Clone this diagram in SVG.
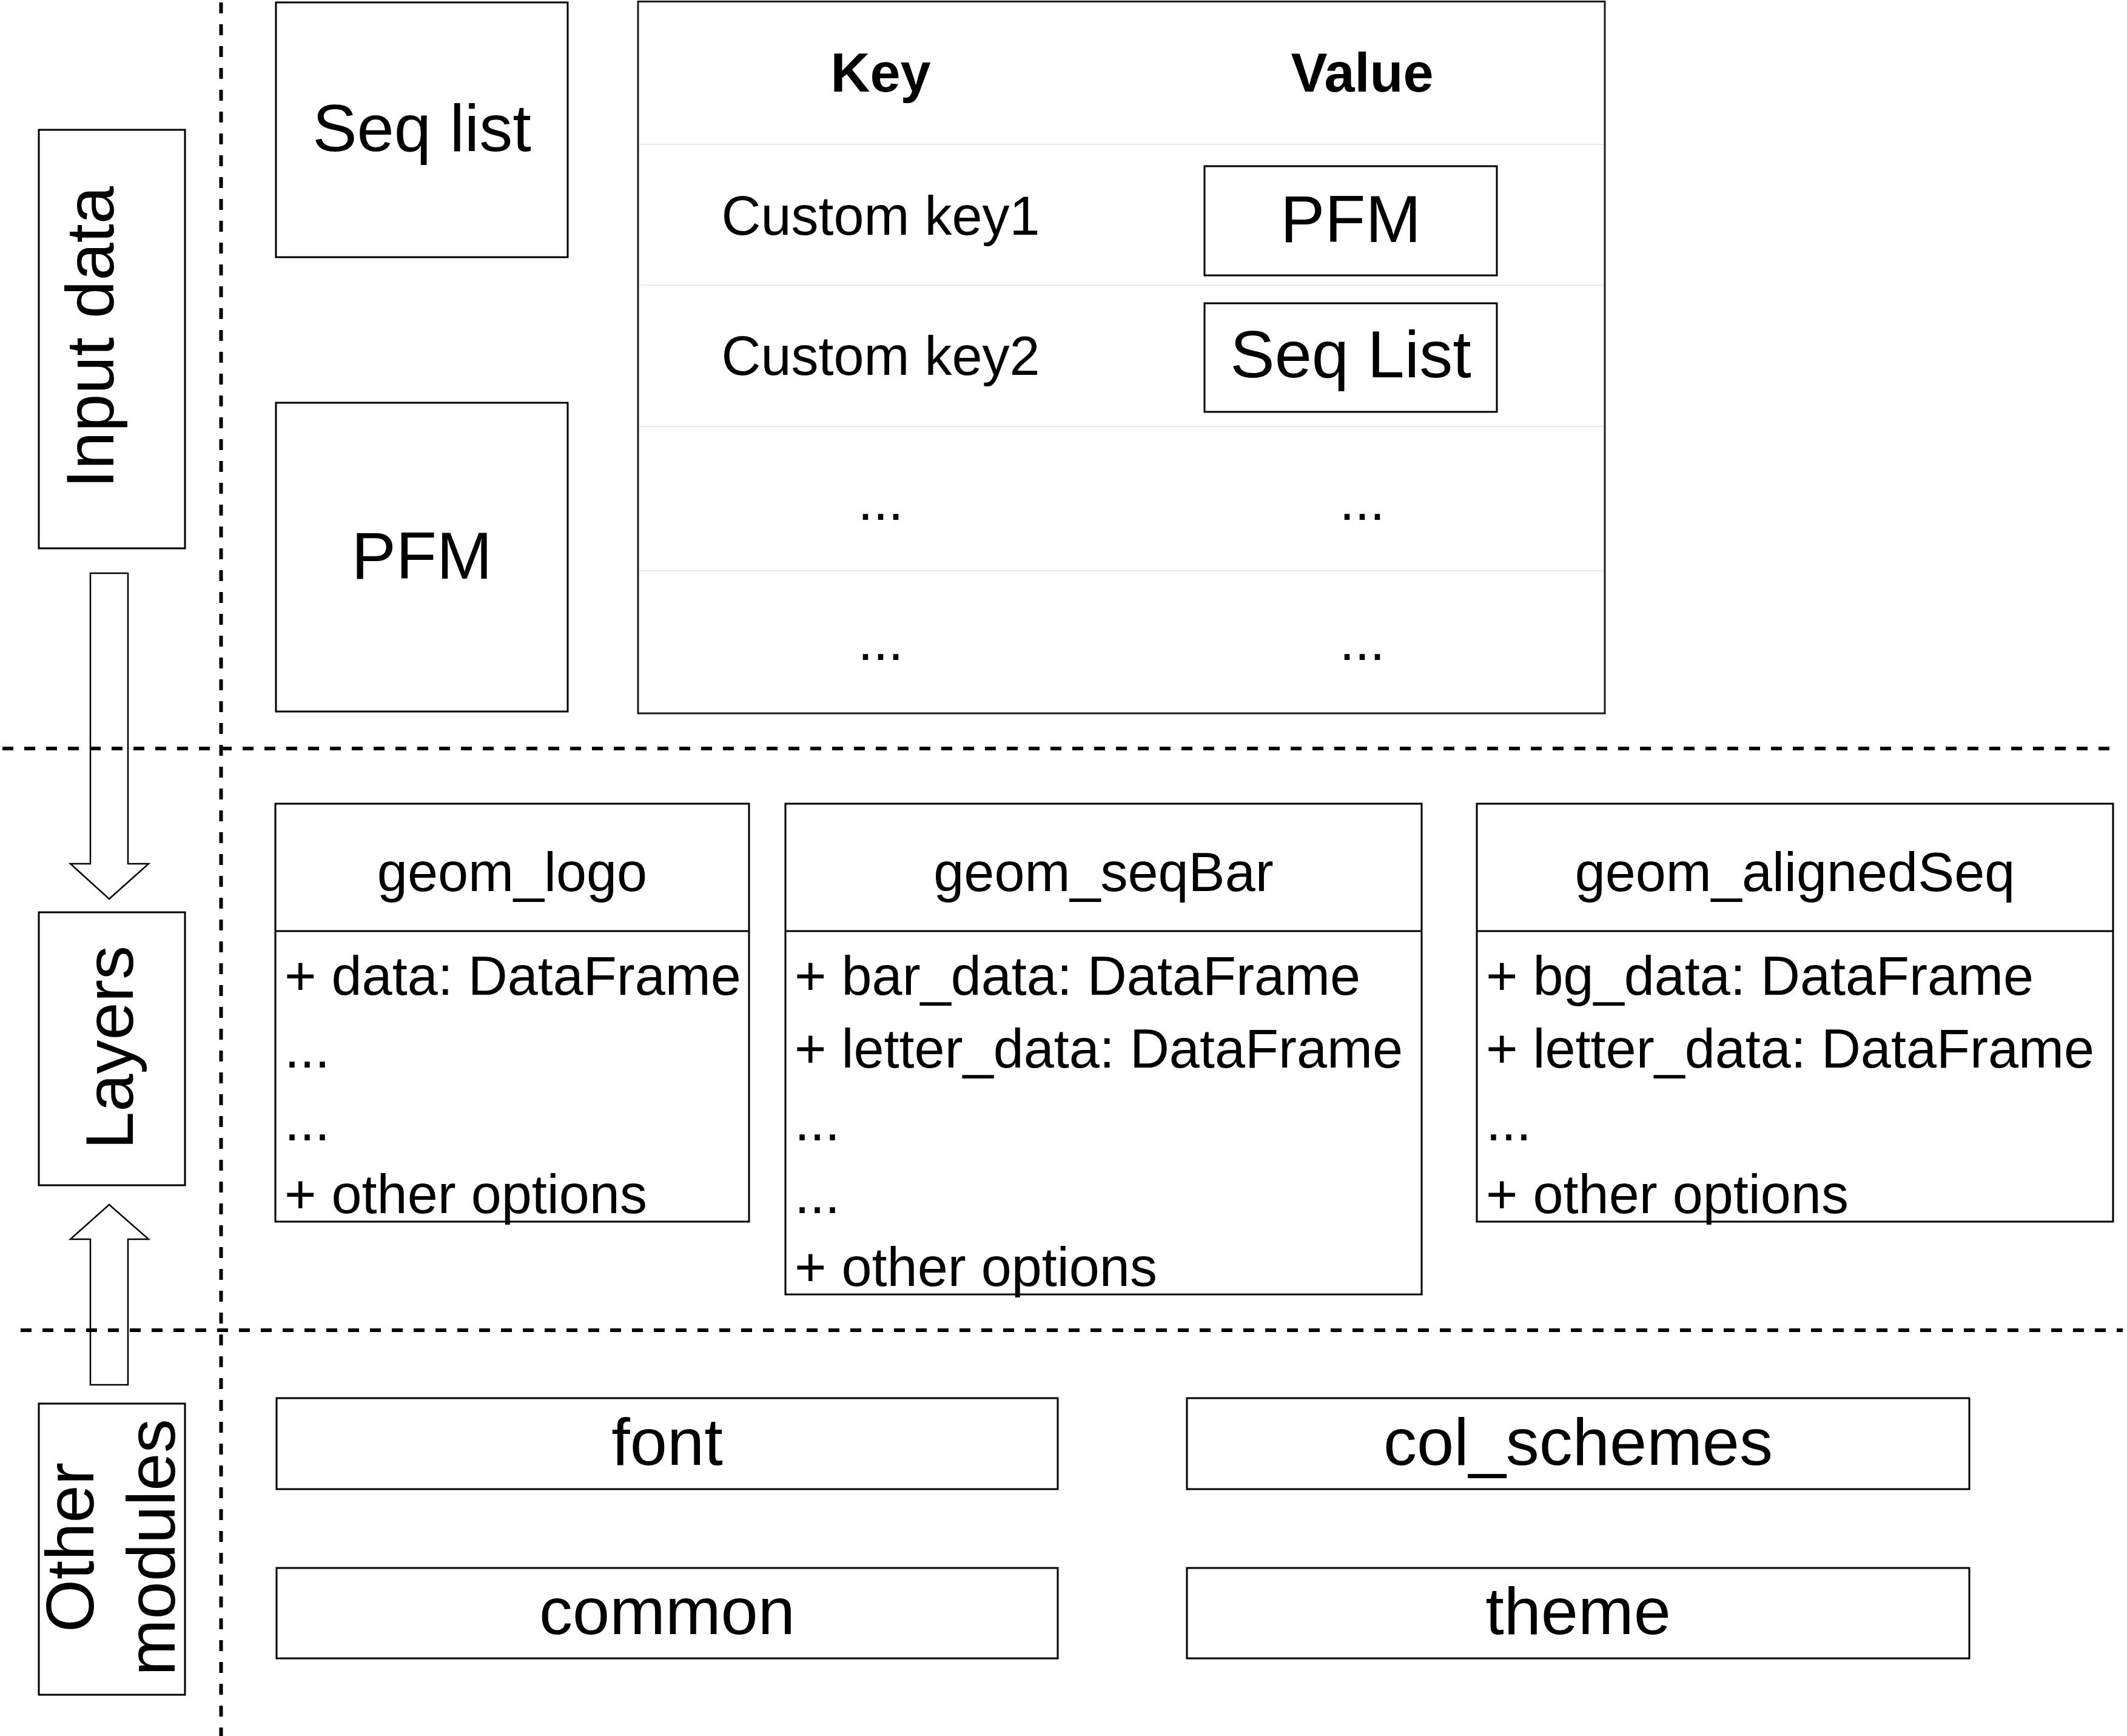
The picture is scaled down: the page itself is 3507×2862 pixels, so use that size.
<svg xmlns="http://www.w3.org/2000/svg" width="3507" height="2862" viewBox="0 0 3507 2862">
<style>
  .box { fill: #ffffff; stroke: #000000; stroke-width: 3; }
  .sep { stroke: #000000; stroke-width: 6; stroke-dasharray: 18 18; fill: none; }
  .row { stroke: #e8e8e8; stroke-width: 2; fill: none; }
  .arrow { fill: #ffffff; stroke: #000000; stroke-width: 2.5; stroke-linejoin: miter; }
  text { font-family: "Liberation Sans", Arial, Helvetica, sans-serif; fill: #000000; }
  .side { font-size: 112px; text-anchor: middle; }
  .big { font-size: 110px; text-anchor: middle; }
  .mid { font-size: 90px; text-anchor: middle; }
  .hdr { font-size: 90px; font-weight: bold; text-anchor: middle; }
  .attr { font-size: 90px; }
</style>
<rect x="0" y="0" width="3507" height="2862" fill="#ffffff"/>

<g id="input-data-label">
  <rect class="box" x="64" y="214" width="241" height="690"/>
  <text class="side" transform="translate(0,556) rotate(-90)" x="0" y="187">Input data</text>
</g>

<g id="layers-label">
  <rect class="box" x="64" y="1504" width="241" height="450"/>
  <text class="side" transform="translate(0,1727) rotate(-90)" x="0" y="219">Layers</text>
</g>

<g id="other-modules-label">
  <rect class="box" x="64" y="2314" width="241" height="480"/>
  <text class="side" transform="translate(0,2551) rotate(-90)"><tspan x="0" y="154">Other</tspan><tspan x="0" y="288">modules</tspan></text>
</g>

<g id="connectors">
  <path class="arrow" d="M149,945 L211,945 L211,1424 L245,1424 L180,1482 L116,1424 L149,1424 Z"/>
  <path class="arrow" d="M180,1986 L245,2043 L211,2043 L211,2283 L149,2283 L149,2043 L116,2043 Z"/>
</g>

<g id="separators">
  <line class="sep" x1="364.5" y1="4" x2="364.5" y2="2862"/>
  <line class="sep" x1="4" y1="1234" x2="3495" y2="1234"/>
  <line class="sep" x1="34" y1="2193" x2="3500" y2="2193"/>
</g>

<g id="seq-list">
  <rect class="box" x="455" y="4" width="481" height="420"/>
  <text class="big" x="695.5" y="249">Seq list</text>
</g>

<g id="pfm">
  <rect class="box" x="455" y="664" width="481" height="509"/>
  <text class="big" x="695.5" y="954">PFM</text>
</g>

<g id="key-value-table">
  <rect x="1052" y="2.5" width="1594" height="1173.5" fill="#ffffff" stroke="#1a1a1a" stroke-width="3"/>
  <line class="row" x1="1054" y1="238" x2="2644" y2="238"/>
  <line class="row" x1="1054" y1="470" x2="2644" y2="470"/>
  <line class="row" x1="1054" y1="703" x2="2644" y2="703"/>
  <line class="row" x1="1054" y1="941" x2="2644" y2="941"/>
  <text class="hdr" x="1452" y="151">Key</text>
  <text class="hdr" x="2246" y="151">Value</text>
  <text class="mid" x="1452" y="387">Custom key1</text>
  <text class="mid" x="1452" y="618">Custom key2</text>
  <rect class="box" x="1986" y="274" width="482" height="180"/>
  <text class="big" x="2227" y="399">PFM</text>
  <rect class="box" x="1986" y="500" width="482" height="179"/>
  <text class="big" x="2227" y="622">Seq List</text>
  <text class="mid" x="1452" y="857">...</text>
  <text class="mid" x="2246" y="857">...</text>
  <text class="mid" x="1452" y="1088">...</text>
  <text class="mid" x="2246" y="1088">...</text>
</g>

<g id="geom-logo">
  <rect class="box" x="454" y="1325" width="781" height="689"/>
  <line stroke="#000" stroke-width="3" x1="454" y1="1535" x2="1235" y2="1535"/>
  <text class="mid" x="844.5" y="1469">geom_logo</text>
  <text class="attr" x="469" y="1640">+ data: DataFrame</text>
  <text class="attr" x="469" y="1760">...</text>
  <text class="attr" x="469" y="1880">...</text>
  <text class="attr" x="469" y="2000">+ other options</text>
</g>

<g id="geom-seqBar">
  <rect class="box" x="1295" y="1325" width="1049" height="809"/>
  <line stroke="#000" stroke-width="3" x1="1295" y1="1535" x2="2344" y2="1535"/>
  <text class="mid" x="1819.5" y="1469">geom_seqBar</text>
  <text class="attr" x="1310" y="1640">+ bar_data: DataFrame</text>
  <text class="attr" x="1310" y="1760">+ letter_data: DataFrame</text>
  <text class="attr" x="1310" y="1880">...</text>
  <text class="attr" x="1310" y="2000">...</text>
  <text class="attr" x="1310" y="2120">+ other options</text>
</g>

<g id="geom-alignedSeq">
  <rect class="box" x="2435" y="1325" width="1049" height="689"/>
  <line stroke="#000" stroke-width="3" x1="2435" y1="1535" x2="3484" y2="1535"/>
  <text class="mid" x="2959.5" y="1469">geom_alignedSeq</text>
  <text class="attr" x="2450" y="1640">+ bg_data: DataFrame</text>
  <text class="attr" x="2450" y="1760">+ letter_data: DataFrame</text>
  <text class="attr" x="2450" y="1880">...</text>
  <text class="attr" x="2450" y="2000">+ other options</text>
</g>

<g id="font">
  <rect class="box" x="456" y="2305" width="1288" height="150"/>
  <text class="big" x="1100" y="2415">font</text>
</g>

<g id="col-schemes">
  <rect class="box" x="1957" y="2305" width="1290" height="150"/>
  <text class="big" x="2602" y="2415">col_schemes</text>
</g>

<g id="common">
  <rect class="box" x="456" y="2585" width="1288" height="149"/>
  <text class="big" x="1100" y="2694">common</text>
</g>

<g id="theme">
  <rect class="box" x="1957" y="2585" width="1290" height="149"/>
  <text class="big" x="2602" y="2694">theme</text>
</g>
</svg>
